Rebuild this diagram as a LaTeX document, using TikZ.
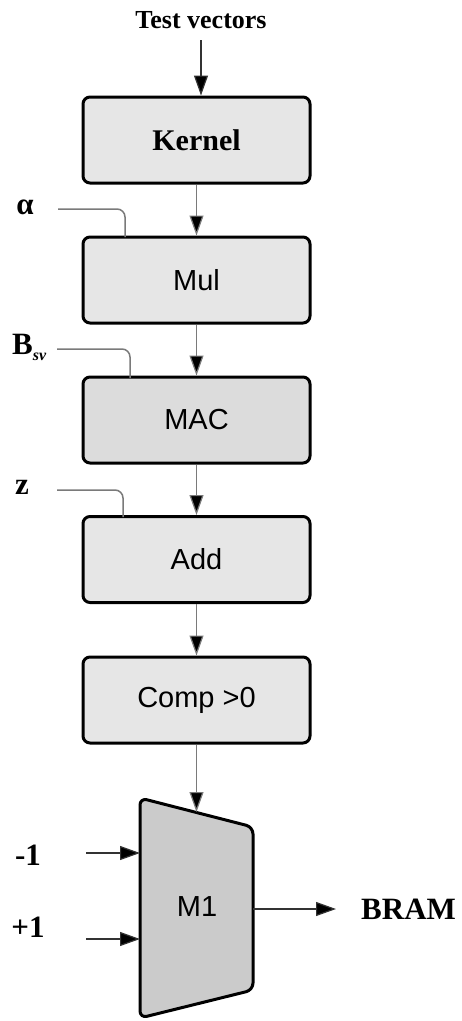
\documentclass[tikz,border=0pt]{standalone}
\usepackage{fontspec}
\setmainfont{Liberation Serif}
\newfontfamily\boxfont{Liberation Sans}
\usetikzlibrary{arrows.meta}
\definecolor{boxfill}{HTML}{E6E6E6}
\definecolor{macfill}{HTML}{DCDCDC}
\definecolor{muxfill}{HTML}{CBCBCB}
\definecolor{wire}{HTML}{7A7A7A}
\begin{document}
\begin{tikzpicture}[x=1pt,y=-1pt,
  blockbox/.style={draw=black,line width=3pt,rounded corners=7pt,fill=boxfill,
    minimum width=227pt,minimum height=86pt,inner sep=0pt},
  sanslbl/.style={font=\boxfont\fontsize{29}{33}\selectfont},
  serlbl/.style={font=\bfseries\fontsize{26}{30}\selectfont,inner sep=0pt},
  biglbl/.style={font=\bfseries\fontsize{31}{34}\selectfont,inner sep=0pt},
  flow/.style={draw=wire,line width=1.2pt,-{Triangle[length=20pt,width=14pt,fill=black]}},
  sidewire/.style={draw=wire,line width=1.5pt,rounded corners=8pt},
]
\useasboundingbox (0,0) rectangle (461,1021);

\node[serlbl] (tv) at (201,20) {Test vectors};
\node[blockbox] (kernel) at (196.5,140) {\bfseries\fontsize{30}{34}\selectfont Kernel};
\node[blockbox,sanslbl] (mul) at (196.5,280) {Mul};
\node[blockbox,sanslbl,fill=macfill] (mac) at (196.5,420) {MAC};
\node[blockbox,sanslbl] (add) at (196.5,559.5) {Add};
\node[blockbox,sanslbl] (comp) at (196.5,700) {Comp >0};

% multiplexer M1
\coordinate (mtl) at (140,798);
\coordinate (mtr) at (253,827);
\coordinate (mbr) at (253,990);
\coordinate (mbl) at (140,1018);
\draw[line width=3pt,fill=muxfill,rounded corners=7pt] (mtl) -- (mtr) -- (mbr) -- (mbl) -- cycle;
\node[sanslbl] (m1) at (197,907) {M1};
\coordinate (m1top) at (196.5,812);
\coordinate (m1ina) at (140,853);
\coordinate (m1inb) at (140,939);
\coordinate (m1out) at (253,909);

% main flow
\coordinate (tvend) at (201,40);
\draw[flow,draw=black!80] (tvend) -- (tvend |- kernel.north);
\draw[flow] (kernel) -- (mul);
\draw[flow] (mul) -- (mac);
\draw[flow] (mac) -- (add);
\draw[flow] (add) -- (comp);
\draw[flow] (comp) -- (m1top);

% side inputs
\node[biglbl] (alpha) at (25,207) {α};
\node[biglbl,anchor=west] (bsv) at (12,347) {B\raisebox{-6pt}{\fontsize{16}{16}\selectfont\itshape sv}};
\node[biglbl] (zin) at (22,487) {z};
\coordinate (aw) at (58,209);
\coordinate (bw) at (57,349);
\coordinate (zw) at (57,490);
\draw[sidewire] (aw) -- (125,209) -- (125,237);
\draw[sidewire] (bw) -- (130,349) -- (130,378);
\draw[sidewire] (zw) -- (123,490) -- (123,517);

% mux inputs / output
\node[biglbl] (mone) at (28,855) {-1};
\node[biglbl] (pone) at (28,927) {+1};
\node[biglbl,anchor=west] (bram) at (361,909) {BRAM};
\coordinate (mas) at (86,853);
\coordinate (mbs) at (86,939);
\coordinate (bramtip) at (336,909);
\draw[flow,draw=black!80] (mas) -- (m1ina);
\draw[flow,draw=black!80] (mbs) -- (m1inb);
\draw[flow,draw=black!80] (m1out) -- (bramtip);
\end{tikzpicture}
\end{document}
